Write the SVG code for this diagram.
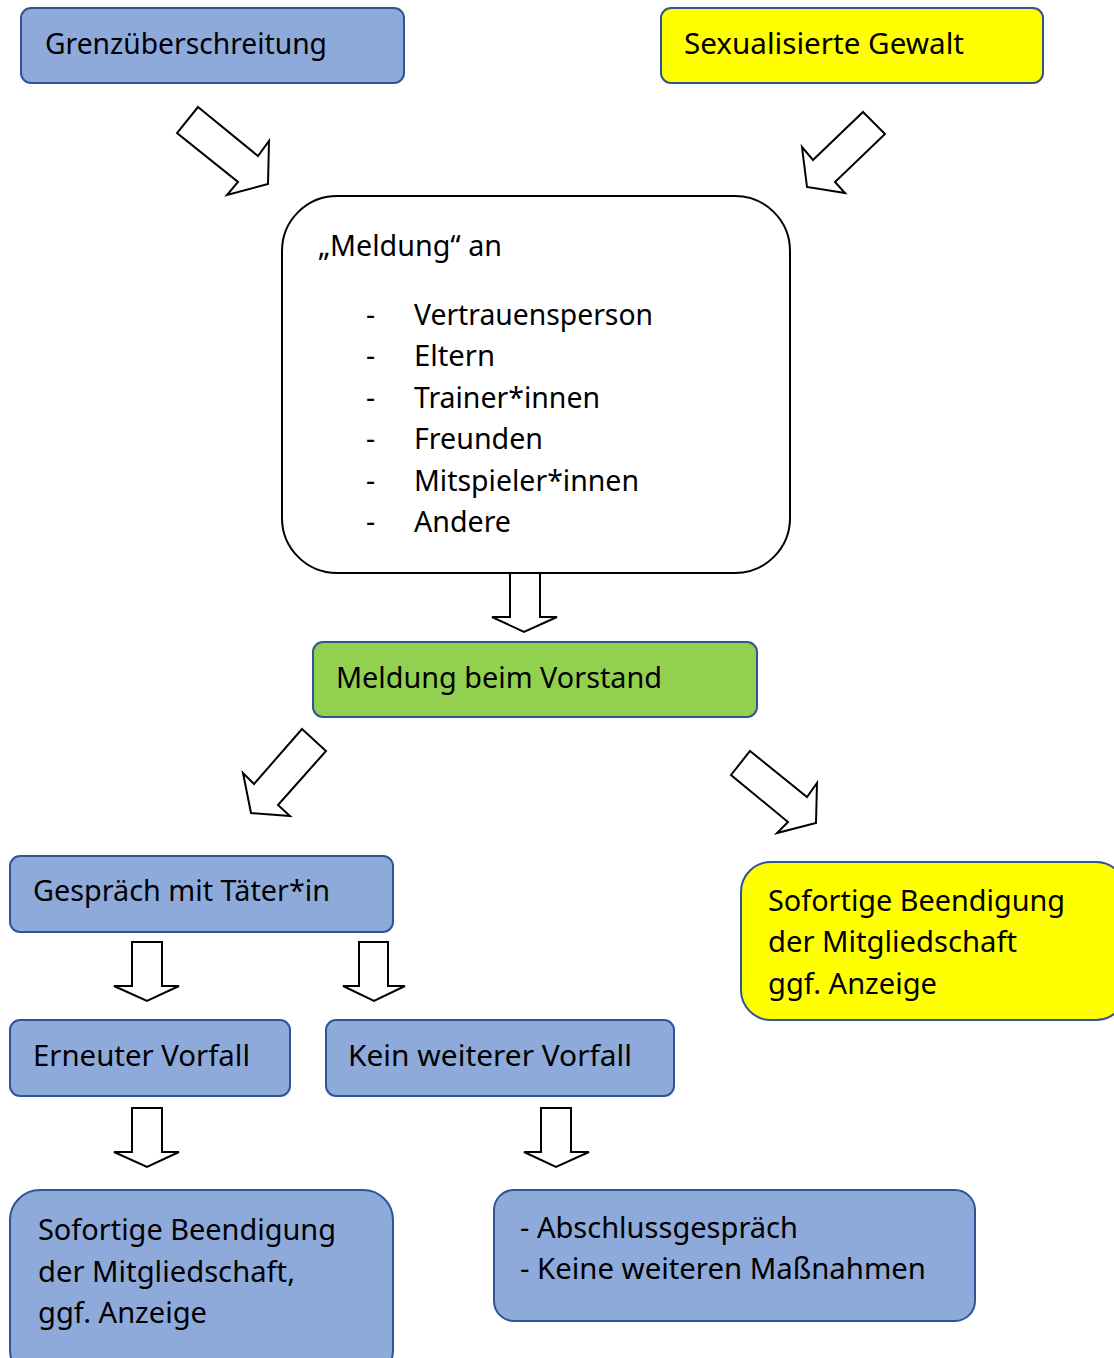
<svg xmlns="http://www.w3.org/2000/svg" width="1114" height="1358" viewBox="0 0 1114 1358">
<style>
text{font-family:"Noto Sans","DejaVu Sans",sans-serif;font-size:28.5px;fill:#000}
.blue{fill:#8eaadb;stroke:#2f5597;stroke-width:2}
.yellow{fill:#ffff00;stroke:#2f5597;stroke-width:2}
.green{fill:#92d050;stroke:#2f5597;stroke-width:2}
.white{fill:#fff;stroke:#000;stroke-width:2}
.arr{fill:#fff;stroke:#000;stroke-width:2;stroke-linejoin:miter}
</style>
<rect width="1114" height="1358" fill="#fff"/>
<g id="connectors">
<polygon class="arr" points="198,107 258,156 269,141 268,184 227,195 238,182 177,133"/>
<polygon class="arr" points="863,112 885,134 835,182 845,193 807,187 802,147 813,160"/>
<polygon class="arr" points="510,573 540,573 540,617 557,617 524,632 492,617 510,617"/>
<polygon class="arr" points="302,729 326,751 278,805 290,816 251,813 243,773 254,784"/>
<polygon class="arr" points="750,751 807,797 817,783 816,823 777,833 788,822 731,775"/>
<polygon class="arr" points="132,942 162,942 162,986 179,986 147,1001 114,986 132,986"/>
<polygon class="arr" points="359,942 388,942 388,986 405,986 374,1001 343,986 359,986"/>
<polygon class="arr" points="132,1108 162,1108 162,1152 179,1152 147,1167 114,1152 132,1152"/>
<polygon class="arr" points="541,1108 571,1108 571,1152 589,1152 556,1167 524,1152 541,1152"/>
</g>
<g id="grenz"><rect class="blue" x="21" y="8" width="383" height="75" rx="10"/><text x="45" y="54" textLength="282" lengthAdjust="spacingAndGlyphs">Grenzüberschreitung</text></g>
<g id="sexual"><rect class="yellow" x="661" y="8" width="382" height="75" rx="10"/><text x="684" y="54" textLength="280" lengthAdjust="spacingAndGlyphs">Sexualisierte Gewalt</text></g>
<g id="meldung"><rect class="white" x="282" y="196" width="508" height="377" rx="55"/>
<text x="318" y="256" textLength="184" lengthAdjust="spacingAndGlyphs">„Meldung“ an</text>
<text x="366" y="325">-</text><text x="414" y="325" textLength="239" lengthAdjust="spacingAndGlyphs">Vertrauensperson</text>
<text x="366" y="366">-</text><text x="414" y="366" textLength="81" lengthAdjust="spacingAndGlyphs">Eltern</text>
<text x="366" y="408">-</text><text x="414" y="408" textLength="186" lengthAdjust="spacingAndGlyphs">Trainer*innen</text>
<text x="366" y="449">-</text><text x="414" y="449" textLength="129" lengthAdjust="spacingAndGlyphs">Freunden</text>
<text x="366" y="491">-</text><text x="414" y="491" textLength="225" lengthAdjust="spacingAndGlyphs">Mitspieler*innen</text>
<text x="366" y="532">-</text><text x="414" y="532" textLength="97" lengthAdjust="spacingAndGlyphs">Andere</text>
</g>
<g id="vorstand"><rect class="green" x="313" y="642" width="444" height="75" rx="10"/><text x="336" y="688" textLength="326" lengthAdjust="spacingAndGlyphs">Meldung beim Vorstand</text></g>
<g id="gespraech"><rect class="blue" x="10" y="856" width="383" height="76" rx="10"/><text x="33" y="901" textLength="297" lengthAdjust="spacingAndGlyphs">Gespräch mit Täter*in</text></g>
<g id="sofort1"><rect class="yellow" x="741" y="862" width="385" height="158" rx="30"/>
<text x="768" y="911" textLength="297" lengthAdjust="spacingAndGlyphs">Sofortige Beendigung</text><text x="768" y="952" textLength="249" lengthAdjust="spacingAndGlyphs">der Mitgliedschaft</text><text x="768" y="994" textLength="169" lengthAdjust="spacingAndGlyphs">ggf. Anzeige</text></g>
<g id="erneut"><rect class="blue" x="10" y="1020" width="280" height="76" rx="10"/><text x="33" y="1066" textLength="217" lengthAdjust="spacingAndGlyphs">Erneuter Vorfall</text></g>
<g id="kein"><rect class="blue" x="326" y="1020" width="348" height="76" rx="10"/><text x="348" y="1066" textLength="284" lengthAdjust="spacingAndGlyphs">Kein weiterer Vorfall</text></g>
<g id="sofort2"><rect class="blue" x="10" y="1190" width="383" height="190" rx="30"/>
<text x="38" y="1240" textLength="298" lengthAdjust="spacingAndGlyphs">Sofortige Beendigung</text><text x="38" y="1282" textLength="257" lengthAdjust="spacingAndGlyphs">der Mitgliedschaft,</text><text x="38" y="1323" textLength="169" lengthAdjust="spacingAndGlyphs">ggf. Anzeige</text></g>
<g id="abschluss"><rect class="blue" x="494" y="1190" width="481" height="131" rx="20"/>
<text x="520" y="1238" textLength="278" lengthAdjust="spacingAndGlyphs">- Abschlussgespräch</text><text x="520" y="1279" textLength="406" lengthAdjust="spacingAndGlyphs">- Keine weiteren Maßnahmen</text></g>
</svg>
